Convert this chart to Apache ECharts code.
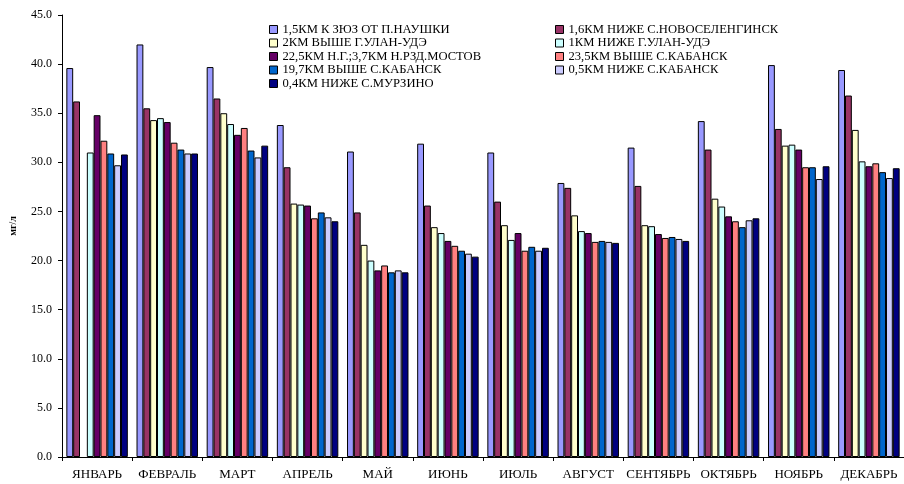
<!DOCTYPE html>
<html>
<head>
<meta charset="utf-8">
<script src="https://cdn.jsdelivr.net/npm/echarts@6/dist/echarts.min.js"></script>
<style>
  html, body { margin: 0; padding: 0; background: #fff; }
  #chart { width: 904px; height: 484px; }
</style>
</head>
<body>
<div id="chart"></div>
<script>
// Monthly values, mg/l, for nine sampling points
const months = ['ЯНВАРЬ', 'ФЕВРАЛЬ', 'МАРТ', 'АПРЕЛЬ', 'МАЙ', 'ИЮНЬ', 'ИЮЛЬ', 'АВГУСТ', 'СЕНТЯБРЬ', 'ОКТЯБРЬ', 'НОЯБРЬ', 'ДЕКАБРЬ'];

const siteNames = [
  '1,5КМ К ЗЮЗ ОТ П.НАУШКИ',
  '1,6КМ НИЖЕ С.НОВОСЕЛЕНГИНСК',
  '2КМ ВЫШЕ Г.УЛАН-УДЭ',
  '1КМ НИЖЕ Г.УЛАН-УДЭ',
  '22,5КМ Н.Г.;3,7КМ Н.РЗД.МОСТОВ',
  '23,5КМ ВЫШЕ С.КАБАНСК',
  '19,7КМ ВЫШЕ С.КАБАНСК',
  '0,5КМ НИЖЕ С.КАБАНСК',
  '0,4КМ НИЖЕ С.МУРЗИНО'
];

const naushki        = [39.6, 42.0, 39.7, 33.8, 31.1, 31.9, 31.0, 27.9, 31.5, 34.2, 39.9, 39.4];
const novoselenginsk = [36.2, 35.5, 36.5, 29.5, 24.9, 25.6, 26.0, 27.4, 27.6, 31.3, 33.4, 36.8];
const aboveUlanUde   = [null, 34.3, 35.0, 25.8, 21.6, 23.4, 23.6, 24.6, 23.6, 26.3, 31.7, 33.3];
const belowUlanUde   = [31.0, 34.5, 33.9, 25.7, 20.0, 22.8, 22.1, 23.0, 23.5, 25.5, 31.8, 30.1];
const mostovoy       = [34.8, 34.1, 32.8, 25.6, 19.0, 22.0, 22.8, 22.8, 22.7, 24.5, 31.3, 29.6];
const kabansk235     = [32.2, 32.0, 33.5, 24.3, 19.5, 21.5, 21.0, 21.9, 22.3, 24.0, 29.5, 29.9];
const kabansk197     = [30.9, 31.3, 31.2, 24.9, 18.8, 21.0, 21.4, 22.0, 22.4, 23.4, 29.5, 29.0];
const kabanskBelow   = [29.7, 30.9, 30.5, 24.4, 19.0, 20.7, 21.0, 21.9, 22.2, 24.1, 28.3, 28.4];
const murzino        = [30.8, 30.9, 31.7, 24.0, 18.8, 20.4, 21.3, 21.8, 22.0, 24.3, 29.6, 29.4];

const seriesValues = [naushki, novoselenginsk, aboveUlanUde, belowUlanUde, mostovoy, kabansk235, kabansk197, kabanskBelow, murzino];
const yTicks = [0, 5, 10, 15, 20, 25, 30, 35, 40, 45];

const palette = ['#9999FF', '#993366', '#FFFFCC', '#CCFFFF', '#660066', '#FF8080', '#0066CC', '#CCCCFF', '#000080'];
const serif = '"Liberation Serif", "DejaVu Serif", serif';

const chart = echarts.init(document.getElementById('chart'), null, { renderer: 'canvas' });

const legendText = { fontFamily: serif, fontSize: 12.6, lineHeight: 13, color: '#000' };
const legendCommon = {
  orient: 'vertical',
  top: 23,
  itemWidth: 8,
  itemHeight: 8,
  itemGap: 0.5,
  icon: 'rect',
  textStyle: legendText,
  itemStyle: { borderColor: '#000', borderWidth: 1 },
  selectedMode: false,
  padding: 0
};

chart.setOption({
  animation: false,
  backgroundColor: '#fff',
  color: palette,
  legend: [
    Object.assign({ left: 269, data: [siteNames[0], siteNames[2], siteNames[4], siteNames[6], siteNames[8]] }, legendCommon),
    Object.assign({ left: 555, data: [siteNames[1], siteNames[3], siteNames[5], siteNames[7]] }, legendCommon)
  ],
  grid: { left: 60, top: 15, width: 850, height: 442, containLabel: false },
  xAxis: {
    type: 'category',
    data: months,
    axisLine: { lineStyle: { color: '#000', width: 1 } },
    axisTick: { show: true, length: 4, lineStyle: { color: '#000' } },
    axisLabel: { fontFamily: serif, fontSize: 13, color: '#000', margin: 11, interval: 0 },
    splitLine: { show: false }
  },
  yAxis: {
    type: 'value',
    min: yTicks[0],
    max: yTicks[yTicks.length - 1],
    interval: 5,
    name: 'мг/л',
    nameLocation: 'middle',
    nameGap: 44,
    nameRotate: 90,
    nameTextStyle: { fontFamily: serif, fontSize: 10, fontWeight: 'bold', color: '#000', padding: [0, 0, 0, 20] },
    axisLine: { show: true, lineStyle: { color: '#000', width: 1 } },
    axisTick: { show: true, length: 4, lineStyle: { color: '#000' } },
    axisLabel: {
      fontFamily: serif, fontSize: 12, color: '#000', margin: 10,
      formatter: v => v.toFixed(1)
    },
    splitLine: { show: false }
  },
  series: seriesValues.map((vals, i) => ({
    type: 'bar',
    name: siteNames[i],
    data: vals,
    barGap: '0%',
    barCategoryGap: '12.4%',
    itemStyle: { color: palette[i], borderColor: '#000', borderWidth: 1 }
  }))
});
</script>
</body>
</html>
